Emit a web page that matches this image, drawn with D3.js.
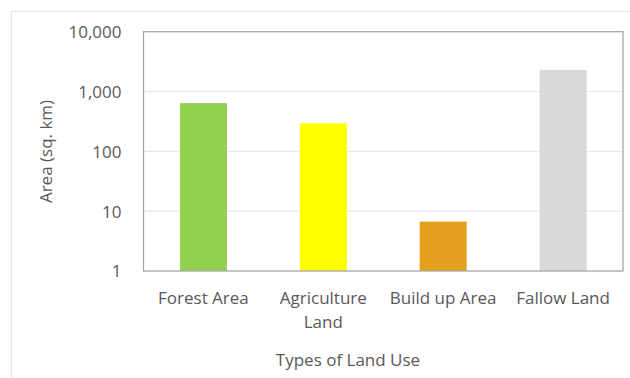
<!DOCTYPE html>
<html>
<head>
<meta charset="utf-8">
<script src="https://cdn.jsdelivr.net/npm/d3@7"></script>
<style>
  html, body { margin: 0; padding: 0; background: #ffffff; }
  svg { display: block; }
  text { font-family: "Open Sans", "DejaVu Sans", sans-serif; fill: #595959; }
</style>
</head>
<body>
<svg id="chart" width="630" height="378"></svg>
<script>
// Land use categories and their areas (sq. km)
const categories = ["Forest Area", "Agriculture Land", "Build up Area", "Fallow Land"];
const categoryLines = [["Forest Area"], ["Agriculture", "Land"], ["Build up Area"], ["Fallow Land"]];
const areas = [640, 295, 6.7, 2300];
const barColors = ["#92d050", "#ffff00", "#e3a11e", "#d9d9d9"];
const yTicks = [1, 10, 100, 1000, 10000];
const yTickLabels = ["1", "10", "100", "1,000", "10,000"];

const svg = d3.select("#chart");
const plot = { left: 143.5, right: 623, top: 31.7, bottom: 271 };

// outer chart frame
svg.append("rect")
  .attr("x", 11.5).attr("y", 11.5)
  .attr("width", 640).attr("height", 400)
  .attr("fill", "none").attr("stroke", "#e4e4e4").attr("stroke-width", 1.2);

const x = d3.scaleBand()
  .domain(categories)
  .range([plot.left, plot.right])
  .paddingInner(0.608)
  .paddingOuter(0.304);

const y = d3.scaleLog()
  .domain([1, 10000])
  .range([plot.bottom, plot.top]);

// horizontal gridlines
svg.append("g")
  .selectAll("line")
  .data(yTicks.slice(1, -1))
  .join("line")
  .attr("x1", plot.left).attr("x2", plot.right)
  .attr("y1", d => y(d)).attr("y2", d => y(d))
  .attr("stroke", "#e6e6e6").attr("stroke-width", 1);

// bars
svg.append("g")
  .selectAll("rect")
  .data(categories)
  .join("rect")
  .attr("x", d => x(d))
  .attr("width", x.bandwidth())
  .attr("y", (d, i) => y(areas[i]))
  .attr("height", (d, i) => y(1) - y(areas[i]))
  .attr("fill", (d, i) => barColors[i]);

// plot area border
svg.append("rect")
  .attr("x", plot.left).attr("y", plot.top)
  .attr("width", plot.right - plot.left).attr("height", plot.bottom - plot.top)
  .attr("fill", "none").attr("stroke", "#a6a6a6").attr("stroke-width", 1.3);

// y-axis tick labels
const yAxis = d3.axisLeft(y)
  .tickValues(yTicks)
  .tickFormat((d, i) => yTickLabels[i])
  .tickSize(0)
  .tickPadding(22);

const gy = svg.append("g")
  .attr("transform", `translate(${plot.left},0)`)
  .call(yAxis);
gy.select(".domain").remove();
gy.selectAll("text")
  .attr("font-size", 17)
  .attr("font-family", null)
  .attr("fill", "#595959")
  .attr("dy", "0.35em");

// category labels (wrapped)
const catG = svg.append("g");
categories.forEach((c, i) => {
  const t = catG.append("text")
    .attr("x", x(c) + x.bandwidth() / 2)
    .attr("y", 304)
    .attr("text-anchor", "middle")
    .attr("font-size", 17);
  categoryLines[i].forEach((line, j) => {
    t.append("tspan")
      .attr("x", x(c) + x.bandwidth() / 2)
      .attr("dy", j === 0 ? 0 : 23.5)
      .text(line);
  });
});

// axis titles
svg.append("text")
  .attr("x", 348).attr("y", 366)
  .attr("text-anchor", "middle")
  .attr("font-size", 17)
  .text("Types of Land Use");

svg.append("text")
  .attr("transform", "translate(51.5,151.5) rotate(-90)")
  .attr("text-anchor", "middle")
  .attr("font-size", 17)
  .text("Area (sq. km)");
</script>
</body>
</html>
